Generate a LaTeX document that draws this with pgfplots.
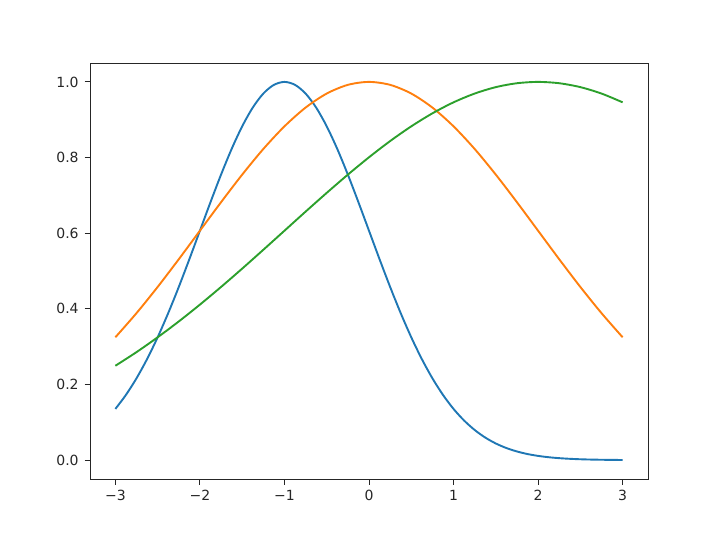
\documentclass[border=0pt]{standalone}
\usepackage{fontspec}
\setmainfont{DejaVu Sans}
\usepackage{pgfplots}
\pgfplotsset{compat=1.18}
\definecolor{mplblue}{HTML}{1F77B4}
\definecolor{mplorange}{HTML}{FF7F0E}
\definecolor{mplgreen}{HTML}{2CA02C}
\begin{document}
\fontsize{14pt}{17pt}\selectfont
\begin{tikzpicture}[x=1pt,y=1pt]
\path[use as bounding box] (0,0) rectangle (720,539);
\begin{axis}[
  at={(90pt,60pt)}, anchor=south west,
  width=558pt, height=416pt, scale only axis,
  xmin=-3.3, xmax=3.3, ymin=-0.05, ymax=1.05,
  xtick={-3,-2,-1,0,1,2,3},
  xticklabels={−3,−2,−1,0,1,2,3},
  ytick={0,0.2,0.4,0.6,0.8,1.0},
  yticklabels={0.0,0.2,0.4,0.6,0.8,1.0},
  tick align=outside, major tick length=5.5pt,
  tick style={line width=0.9pt, black!85},
  axis line style={line width=0.9pt, black!85},
  xtick pos=bottom, ytick pos=left,
  tick label style={font=\fontsize{14pt}{17pt}\selectfont, text=black!85},
  xticklabel style={yshift=-1pt},
  yticklabel style={xshift=-1pt},
  every axis plot/.append style={line width=1.9pt},
]
\addplot[mplblue, smooth] coordinates {
(-3,0.1353) (-2.875,0.1724) (-2.75,0.2163) (-2.625,0.2671) (-2.5,0.3247) (-2.375,0.3886) (-2.25,0.4578) (-2.125,0.5311) (-2,0.6065) (-1.875,0.6819) (-1.75,0.7548) (-1.625,0.8226) (-1.5,0.8825) (-1.375,0.9321) (-1.25,0.9692) (-1.125,0.9922) (-1,1.0000) (-0.875,0.9922) (-0.75,0.9692) (-0.625,0.9321) (-0.5,0.8825) (-0.375,0.8226) (-0.25,0.7548) (-0.125,0.6819) (0,0.6065) (0.125,0.5311) (0.25,0.4578) (0.375,0.3886) (0.5,0.3247) (0.625,0.2671) (0.75,0.2163) (0.875,0.1724) (1,0.1353) (1.125,0.1046) (1.25,0.0796) (1.375,0.0596) (1.5,0.0439) (1.625,0.0319) (1.75,0.0228) (1.875,0.0160) (2,0.0111) (2.125,0.0076) (2.25,0.0051) (2.375,0.0034) (2.5,0.0022) (2.625,0.0014) (2.75,0.0009) (2.875,0.0005) (3,0.0003)};
\addplot[mplorange, smooth] coordinates {
(-3,0.3247) (-2.75,0.3886) (-2.5,0.4578) (-2.25,0.5311) (-2,0.6065) (-1.75,0.6819) (-1.5,0.7548) (-1.25,0.8226) (-1,0.8825) (-0.75,0.9321) (-0.5,0.9692) (-0.25,0.9922) (0,1.0000) (0.25,0.9922) (0.5,0.9692) (0.75,0.9321) (1,0.8825) (1.25,0.8226) (1.5,0.7548) (1.75,0.6819) (2,0.6065) (2.25,0.5311) (2.5,0.4578) (2.75,0.3886) (3,0.3247)};
\addplot[mplgreen, smooth] coordinates {
(-3,0.2494) (-2.75,0.2855) (-2.5,0.3247) (-2.25,0.3666) (-2,0.4111) (-1.75,0.4578) (-1.5,0.5063) (-1.25,0.5561) (-1,0.6065) (-0.75,0.6570) (-0.5,0.7066) (-0.25,0.7548) (0,0.8007) (0.25,0.8436) (0.5,0.8825) (0.75,0.9169) (1,0.9460) (1.25,0.9692) (1.5,0.9862) (1.75,0.9965) (2,1.0000) (2.25,0.9965) (2.5,0.9862) (2.75,0.9692) (3,0.9460)};
\end{axis}
\end{tikzpicture}
\end{document}
